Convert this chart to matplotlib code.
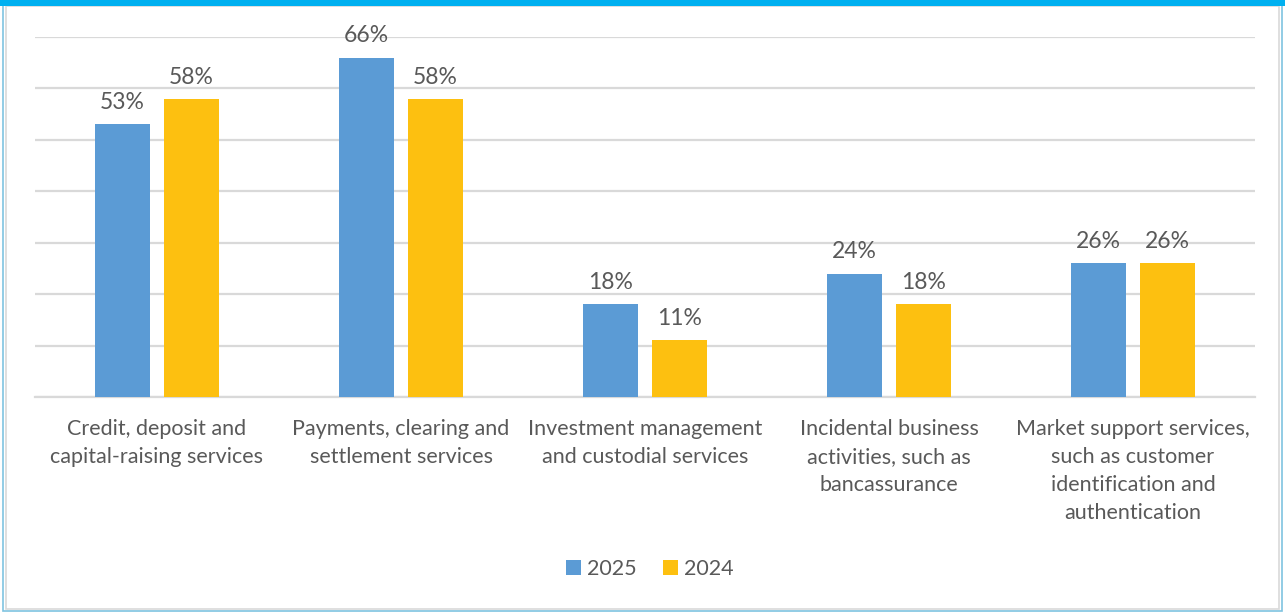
import matplotlib.pyplot as plt
import numpy as np
from matplotlib.patches import Rectangle

plt.rcParams["font.family"] = ["Lato", "DejaVu Sans"]

categories = [
    "Credit, deposit and\ncapital-raising services",
    "Payments, clearing and\nsettlement services",
    "Investment management\nand custodial services",
    "Incidental business\nactivities, such as\nbancassurance",
    "Market support services,\nsuch as customer\nidentification and\nauthentication",
]
series_names = ["2025", "2024"]
values_2025 = [53, 66, 18, 24, 26]
values_2024 = [58, 58, 11, 18, 26]

colors = ["#5b9bd5", "#fdc010"]
text_color = "#595959"
grid_color = "#d9d9d9"

fig = plt.figure(figsize=(12.85, 6.12), dpi=100)
ax = fig.add_axes([35 / 1285, 1 - 397 / 612, 1220 / 1285, 360 / 612])

x = np.arange(len(categories))
width = 0.225
offset = 0.142
for vals, name, color, dx in zip(
    [values_2025, values_2024], series_names, colors, [-offset, offset]
):
    bars = ax.bar(x + dx, vals, width, color=color, label=name, zorder=3)
    for b, v in zip(bars, vals):
        ax.annotate(
            f"{v}%",
            (b.get_x() + b.get_width() / 2, v),
            xytext=(0, 8),
            textcoords="offset points",
            ha="center",
            va="bottom",
            fontsize=16.5,
            color=text_color,
        )

ax.set_xlim(-0.5, len(categories) - 0.5)
ax.set_ylim(0, 70)
ax.set_yticks(np.arange(0, 71, 10))
ax.yaxis.grid(True, color=grid_color, linewidth=1.6, zorder=0)
ax.tick_params(axis="y", left=False, labelleft=False)
ax.set_xticks(x)
ax.set_xticklabels(categories, fontsize=15.5, color=text_color, linespacing=1.5)
ax.tick_params(axis="x", length=0, pad=16)
for side in ["top", "right", "left"]:
    ax.spines[side].set_visible(False)
ax.spines["bottom"].set_color(grid_color)
ax.spines["bottom"].set_linewidth(1.6)

leg = fig.legend(
    loc="center",
    bbox_to_anchor=(650 / 1285, 1 - 569 / 612),
    ncol=2,
    frameon=False,
    fontsize=15.5,
    handlelength=0.7,
    handleheight=0.7,
    handletextpad=0.3,
    columnspacing=1.2,
)
for t in leg.get_texts():
    t.set_color(text_color)

# outer frame with the thick top band
fig.patches.append(
    Rectangle((0.002, 0.002), 0.996, 0.99, transform=fig.transFigure,
              fill=False, edgecolor="#7fc3e0", linewidth=1.2)
)
fig.patches.append(
    Rectangle((0.005, 0.005), 0.99, 0.985, transform=fig.transFigure,
              fill=False, edgecolor=grid_color, linewidth=1.2)
)
fig.patches.append(
    Rectangle((0, 1 - 6 / 612), 1, 6 / 612, transform=fig.transFigure,
              color="#00b0f0", linewidth=0)
)

fig.savefig("out.png", dpi=100)
